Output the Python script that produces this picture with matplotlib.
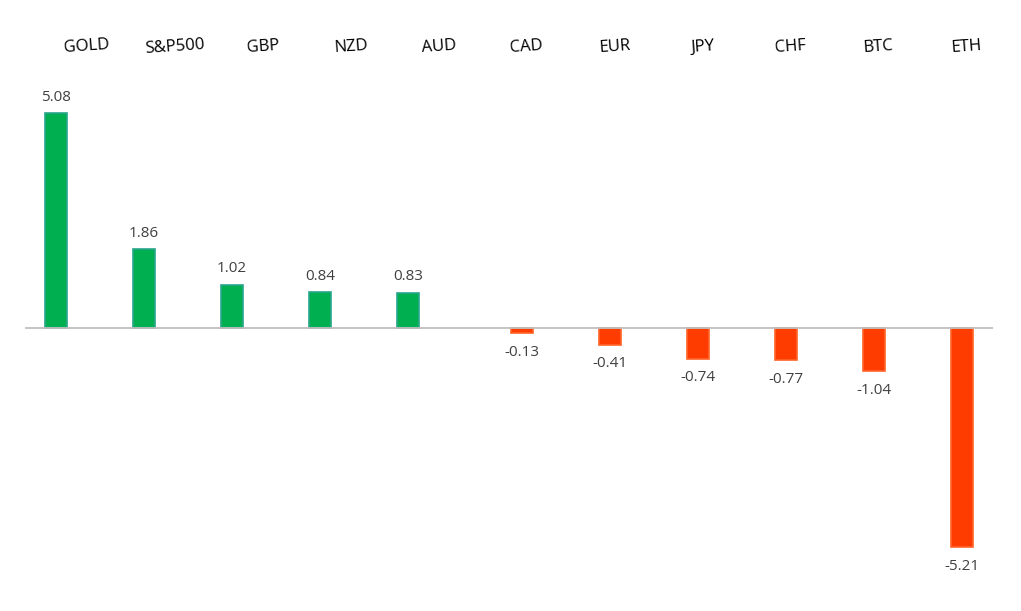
import numpy as np
import matplotlib.pyplot as plt

plt.rcParams['font.family'] = ['Open Sans', 'DejaVu Sans']

assets = ["GOLD", "S&P500", "GBP", "NZD", "AUD", "CAD",
          "EUR", "JPY", "CHF", "BTC", "ETH"]
changes = [5.08, 1.86, 1.02, 0.84, 0.83, -0.13,
           -0.41, -0.74, -0.77, -1.04, -5.21]


def performance_chart(out_file):
    """ Bar chart of weekly change per asset, gainers green, losers red. """
    vals = np.array(changes)
    idx = np.arange(len(assets))
    pos = vals >= 0
    # Excel style: two series, positives sit left of the slot, negatives right
    x = np.where(pos, idx - 0.15, idx + 0.15)

    fig = plt.figure(figsize=(10.21, 6.11), dpi=100)
    ax = fig.add_axes([25 / 1021, 0, 968 / 1021, 1])
    ax.bar(x[pos], vals[pos], width=0.25, color="#00B050",
           edgecolor="#2AA58C", linewidth=1.2, zorder=2)
    ax.bar(x[~pos], vals[~pos], width=0.25, color="#FF3C00",
           edgecolor="#FF6428", linewidth=1.2, zorder=2)
    ax.axhline(0, color="#BFBFBF", linewidth=1.3, zorder=3)

    for xi, v in zip(x, vals):
        if v >= 0:
            ax.text(xi, v + 0.38, f"{v:.2f}", ha="center", va="center",
                    fontsize=11, color="#404040")
        else:
            ax.text(xi, v - 0.45, f"{v:.2f}", ha="center", va="center",
                    fontsize=11, color="#404040")

    # category names along the top, slightly tilted
    for i, name in enumerate(assets):
        ax.text(i + 0.2, 6.66, name, ha="center", va="center",
                fontsize=12, rotation=4, color="black")

    ax.set_xlim(-0.5, 10.5)
    ax.set_ylim(-6.72, 7.77)
    ax.axis("off")
    fig.savefig(out_file, dpi=100)


if __name__ == '__main__':
    performance_chart("out.png")
